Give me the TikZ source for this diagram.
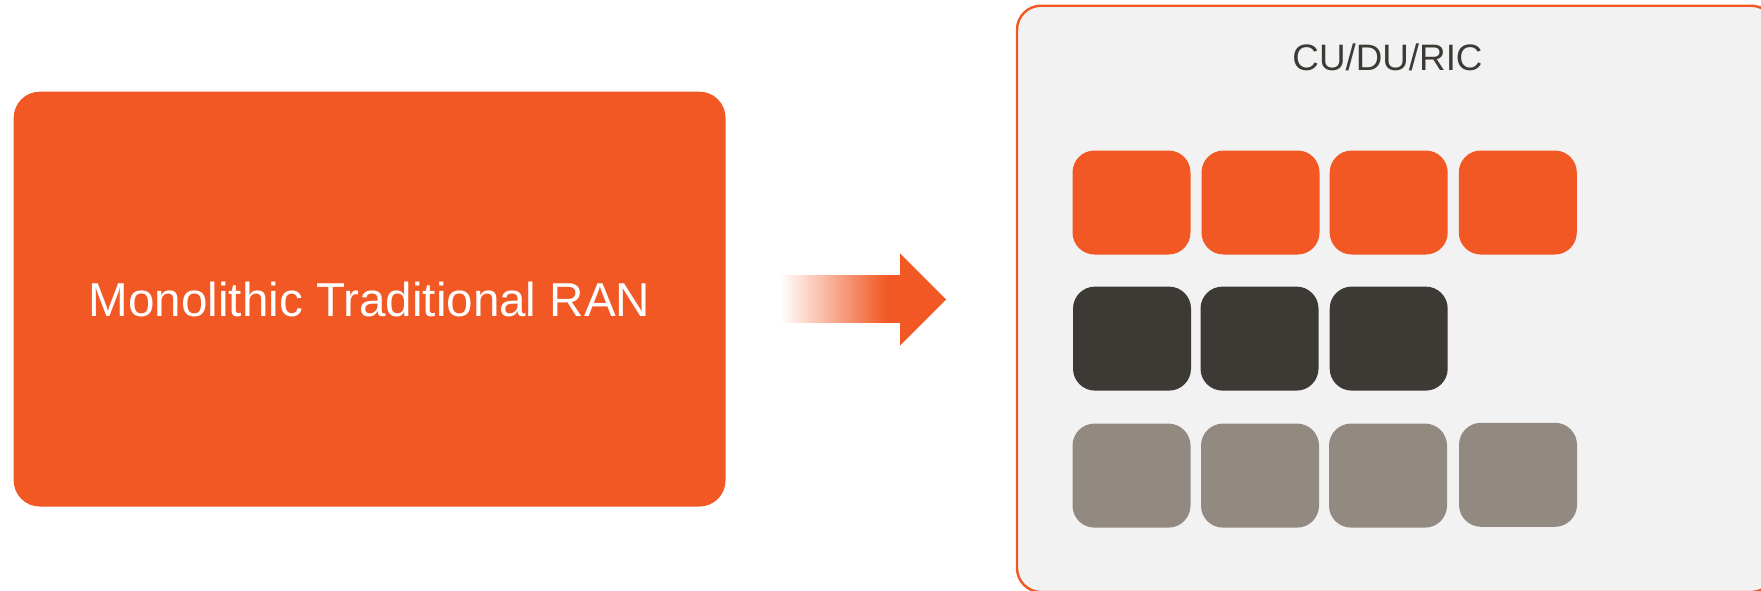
\documentclass[tikz,border=0pt]{standalone}
\usepackage{fontspec}
\setmainfont{Liberation Sans}
\definecolor{ranorange}{RGB}{241,88,36}
\definecolor{panelfill}{RGB}{242,242,242}
\definecolor{darktile}{RGB}{61,58,53}
\definecolor{graytile}{RGB}{146,138,128}
\pgfdeclarehorizontalshading{arrowfade}{100bp}{color(0bp)=(white); color(25bp)=(white); color(69bp)=(ranorange); color(100bp)=(ranorange)}
\tikzset{
  tile/.style={rectangle, rounded corners=11pt, minimum width=59pt, minimum height=52pt, inner sep=0pt, draw=none},
  orangetile/.style={tile, fill=ranorange},
  darktilebox/.style={tile, fill=darktile},
  graytilebox/.style={tile, fill=graytile},
}
\begin{document}
\begin{tikzpicture}[x=0.5pt,y=-0.5pt]
\useasboundingbox (0,0) rectangle (1761,590);
\fill[white] (0,0) rectangle (1761,590);
% left monolithic box
\node[rectangle, rounded corners=13pt, fill=ranorange, minimum width=355.9pt, minimum height=207.4pt, inner sep=0pt] (mono) at (369.6,299.1) {};
\node[anchor=base, text=white, font=\fontsize{23.8pt}{28pt}\selectfont, inner sep=0pt] (monotext) at (369.5,316.7) {Monolithic Traditional RAN};
% arrow
\shade[shading=arrowfade, draw=none] (780,275.7) rectangle (901,322.3);
\fill[ranorange] (900,253.3) -- (946,299.5) -- (900,345.7) -- cycle;
% right panel
\draw[draw=ranorange, line width=1.2pt, fill=panelfill, rounded corners=12pt] (1017,5.7) rectangle (1775,592);
\node[anchor=base, text=darktile, font=\fontsize{18.4pt}{22pt}\selectfont, inner sep=0pt] (title) at (1387.5,70) {CU/DU/RIC};
% tiles
\node[orangetile] (o1) at (1131.5,202.5) {};
\node[orangetile] (o2) at (1260.5,202.5) {};
\node[orangetile] (o3) at (1388.7,202.5) {};
\node[orangetile] (o4) at (1517.8,202.5) {};
\node[darktilebox] (d1) at (1132,338.6) {};
\node[darktilebox] (d2) at (1259.5,338.6) {};
\node[darktilebox] (d3) at (1388.7,338.6) {};
\node[graytilebox] (g1) at (1131.5,475.6) {};
\node[graytilebox] (g2) at (1260,475.6) {};
\node[graytilebox] (g3) at (1388,475.6) {};
\node[graytilebox] (g4) at (1518,474.8) {};
\end{tikzpicture}
\end{document}
